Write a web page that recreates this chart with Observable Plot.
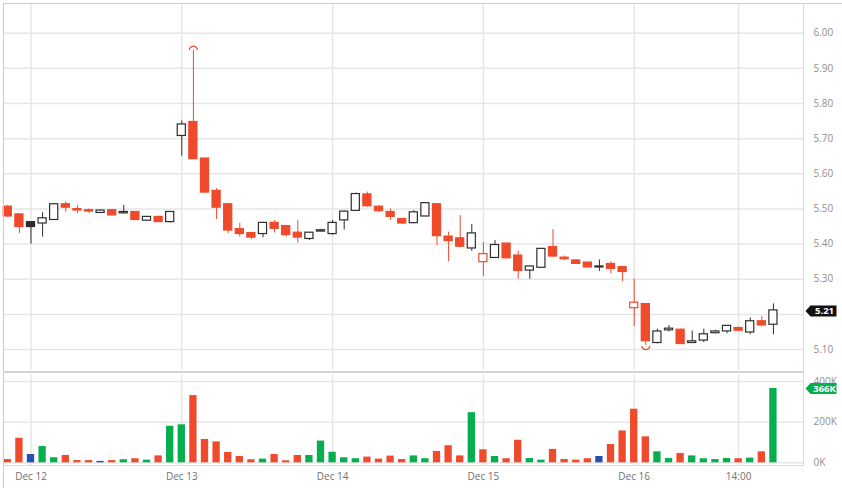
<!DOCTYPE html>
<html>
<head>
<meta charset="utf-8">
<script src="https://cdn.jsdelivr.net/npm/d3@7"></script>
<script src="https://cdn.jsdelivr.net/npm/@observablehq/plot@0.6"></script>
<style>
  html, body { margin: 0; padding: 0; background: #fff; }
  #chart { position: relative; width: 842px; height: 488px; overflow: hidden; font-family: "Open Sans", sans-serif; }
  #chart svg { position: absolute; left: 0; }
  .line { position: absolute; }
</style>
</head>
<body>
<div id="chart">
  <div id="price"></div>
  <div id="volume"></div>
  <div class="line" style="left:3px;top:3px;right:0;bottom:0;border-left:1px solid #cbcbcb;border-top:1px solid #cbcbcb;"></div>
  <div class="line" style="left:803px;top:3px;width:1px;height:463px;background:#dcdcdc;"></div>
  <div class="line" style="left:3px;top:371px;width:801px;height:2px;background:#d2d2d2;"></div>
  <div class="line" style="left:3px;top:465px;width:801px;height:1px;background:#dcdcdc;"></div>
</div>
<script>
// Candle data, one entry per bar
const open = [5.505, 5.483, 5.461, 5.46, 5.47, 5.512, 5.498, 5.495, 5.49, 5.495,
  5.489, 5.49, 5.468, 5.476, 5.464, 5.709, 5.746, 5.642, 5.55, 5.512,
  5.441, 5.43, 5.43, 5.459, 5.45, 5.431, 5.416, 5.437, 5.43, 5.469,
  5.496, 5.54, 5.505, 5.49, 5.47, 5.461, 5.48, 5.512, 5.42, 5.415,
  5.389, 5.35, 5.362, 5.40, 5.366, 5.326, 5.334, 5.39, 5.36, 5.352,
  5.346, 5.335, 5.342, 5.333, 5.219, 5.228, 5.12, 5.156, 5.155, 5.12,
  5.127, 5.148, 5.153, 5.16, 5.15, 5.179, 5.172];
const high = [5.51, 5.487, 5.462, 5.489, 5.515, 5.52, 5.51, 5.50, 5.497, 5.497,
  5.51, 5.493, 5.478, 5.478, 5.492, 5.75, 5.952, 5.642, 5.558, 5.516,
  5.459, 5.432, 5.462, 5.467, 5.452, 5.467, 5.431, 5.442, 5.467, 5.494,
  5.545, 5.548, 5.51, 5.50, 5.472, 5.495, 5.517, 5.515, 5.434, 5.481,
  5.456, 5.405, 5.41, 5.40, 5.38, 5.337, 5.386, 5.441, 5.366, 5.356,
  5.348, 5.355, 5.35, 5.334, 5.30, 5.23, 5.158, 5.168, 5.158, 5.153,
  5.158, 5.155, 5.168, 5.163, 5.19, 5.194, 5.23];
const low = [5.476, 5.43, 5.40, 5.42, 5.47, 5.49, 5.487, 5.487, 5.487, 5.482,
  5.485, 5.468, 5.465, 5.462, 5.46, 5.65, 5.64, 5.545, 5.47, 5.43,
  5.42, 5.413, 5.418, 5.432, 5.42, 5.403, 5.41, 5.435, 5.425, 5.44,
  5.493, 5.505, 5.49, 5.467, 5.456, 5.458, 5.478, 5.395, 5.35, 5.389,
  5.379, 5.308, 5.36, 5.36, 5.30, 5.30, 5.333, 5.365, 5.354, 5.343,
  5.333, 5.322, 5.315, 5.293, 5.166, 5.111, 5.116, 5.15, 5.115, 5.12,
  5.12, 5.145, 5.145, 5.152, 5.142, 5.165, 5.142];
const close = [5.48, 5.45, 5.45, 5.472, 5.512, 5.505, 5.497, 5.494, 5.494, 5.483,
  5.49, 5.47, 5.476, 5.464, 5.49, 5.739, 5.643, 5.548, 5.505, 5.44,
  5.43, 5.42, 5.459, 5.445, 5.427, 5.42, 5.431, 5.438, 5.459, 5.491,
  5.541, 5.509, 5.495, 5.479, 5.46, 5.489, 5.515, 5.424, 5.41, 5.394,
  5.429, 5.37, 5.396, 5.361, 5.325, 5.335, 5.385, 5.366, 5.358, 5.345,
  5.335, 5.335, 5.331, 5.322, 5.232, 5.125, 5.15, 5.158, 5.117, 5.122,
  5.142, 5.15, 5.166, 5.155, 5.179, 5.17, 5.21];
// Volume in thousands
const volume = [16, 121, 41, 80, 25, 36, 11, 11, 7, 11,
  15, 20, 13, 34, 180, 187, 331, 115, 103, 51,
  31, 15, 18, 41, 10, 36, 36, 107, 52, 25,
  20, 28, 18, 33, 16, 34, 20, 56, 84, 34,
  247, 64, 31, 20, 111, 21, 13, 66, 16, 13,
  20, 31, 90, 157, 264, 128, 54, 21, 46, 34,
  20, 16, 21, 20, 23, 54, 366];

// Axis ticks
const tickIdx = [2, 15, 28, 41, 54, 63];
const tickLabels = ["Dec 12", "Dec 13", "Dec 14", "Dec 15", "Dec 16", "14:00"];
const priceTicks = [5.1, 5.2, 5.3, 5.4, 5.5, 5.6, 5.7, 5.8, 5.9, 6.0];
const volumeTicks = [0, 200000, 400000];

const RED = "#ef4a2c";
const DARK = "#2e2e2e";
const GREEN = "#06ae4e";
const BLUE = "#2451b8";
const GRID = "#e6e6e6";

const candles = open.map((o, i) => ({
  i: i,
  open: o,
  high: high[i],
  low: low[i],
  close: close[i],
  volume: volume[i] * 1000,
  prev: i ? close[i - 1] : o
}));

// hollow candle scheme: colour vs previous close, fill vs open
const candleColor = d => d.close >= d.prev ? DARK : RED;
const bodyFill = d => d.close > d.open ? "white" : candleColor(d);
const volumeColor = d => d.close > d.prev ? GREEN : d.close < d.prev ? RED : BLUE;

const xScale = {type: "linear", domain: [-0.37, 68.68], axis: null};
const tickText = i => tickLabels[tickIdx.indexOf(i)];

// small tag shape with an arrow pointing left
const tagSymbol = {
  draw(ctx) {
    ctx.moveTo(0, 0);
    ctx.lineTo(5, -5.5);
    ctx.lineTo(31, -5.5);
    ctx.lineTo(31, 5.5);
    ctx.lineTo(5, 5.5);
    ctx.closePath();
  }
};
const arcTop = {
  draw(ctx) {
    ctx.moveTo(-4, 0);
    ctx.arc(0, 0, 4, Math.PI, 2 * Math.PI);
  }
};
const arcBottom = {
  draw(ctx) {
    ctx.moveTo(4, 0);
    ctx.arc(0, 0, 4, 0, Math.PI);
  }
};

const highest = candles.reduce((a, b) => b.high > a.high ? b : a);
const lowest = candles.reduce((a, b) => b.low < a.low ? b : a);
const last = candles[candles.length - 1];

// the last-price tag hides the tick label it sits on
const priceLabels = priceTicks.filter(t => Math.abs(t - last.close) > 0.03);

const priceChart = Plot.plot({
  width: 842,
  height: 372,
  marginLeft: 3,
  marginRight: 38,
  marginTop: 3,
  marginBottom: 2,
  x: xScale,
  y: {domain: [5.0404, 6.0845], axis: null},
  style: {fontFamily: "Open Sans, sans-serif", fontSize: "10px", background: "transparent"},
  marks: [
    Plot.gridY(priceTicks, {stroke: GRID, strokeOpacity: 1, strokeWidth: 1.5}),
    Plot.gridX(tickIdx, {stroke: GRID, strokeOpacity: 1, strokeWidth: 1.5}),
    Plot.axisY(priceLabels, {
      anchor: "right",
      label: null,
      tickSize: 0,
      tickPadding: 9,
      tickFormat: d3.format(".2f"),
      fill: "#8f8f8f"
    }),
    Plot.ruleX(candles, {x: "i", y1: "low", y2: "high", stroke: candleColor, strokeWidth: 1}),
    Plot.rect(candles, {
      x1: d => d.i - 0.35,
      x2: d => d.i + 0.35,
      y1: d => Math.min(d.open, d.close),
      y2: d => Math.max(d.open, d.close),
      fill: bodyFill,
      stroke: candleColor,
      strokeWidth: 1.2,
      insetTop: -0.5,
      insetBottom: -0.5
    }),
    Plot.dot([highest], {x: "i", y: "high", symbol: arcTop, fill: "none", stroke: candleColor, strokeWidth: 1.2}),
    Plot.dot([lowest], {x: "i", y: "low", symbol: arcBottom, fill: "none", stroke: candleColor, strokeWidth: 1.2}),
    Plot.dot([last], {y: "close", frameAnchor: "right", dx: 1, symbol: tagSymbol, fill: "#111", stroke: null}),
    Plot.text([last], {
      y: "close",
      text: d => d.close.toFixed(2),
      frameAnchor: "right",
      dx: 20,
      textAnchor: "middle",
      fill: "white",
      fontWeight: "bold",
      fontSize: 9.5
    })
  ]
});

const volumeChart = Plot.plot({
  width: 842,
  height: 116,
  marginLeft: 3,
  marginRight: 38,
  marginTop: 3,
  marginBottom: 23,
  x: xScale,
  y: {domain: [-13300, 430000], axis: null},
  style: {fontFamily: "Open Sans, sans-serif", fontSize: "10px", background: "transparent"},
  marks: [
    Plot.gridY(volumeTicks, {stroke: GRID, strokeOpacity: 1, strokeWidth: 1.5}),
    Plot.gridX(tickIdx, {stroke: GRID, strokeOpacity: 1, strokeWidth: 1.5}),
    Plot.axisY(volumeTicks, {
      anchor: "right",
      label: null,
      tickSize: 0,
      tickPadding: 9,
      tickFormat: d => d / 1000 + "K",
      fill: "#8f8f8f"
    }),
    Plot.axisX(tickIdx, {
      label: null,
      tickSize: 0,
      tickPadding: 7,
      tickFormat: tickText,
      fill: "#707070"
    }),
    Plot.rectY(candles, {
      x1: d => d.i - 0.315,
      x2: d => d.i + 0.315,
      y: "volume",
      fill: volumeColor
    }),
    Plot.dot([last], {y: "volume", frameAnchor: "right", dx: 1, symbol: tagSymbol, fill: GREEN, stroke: null}),
    Plot.text([last], {
      y: "volume",
      text: d => Math.round(d.volume / 1000) + "K",
      frameAnchor: "right",
      dx: 20,
      textAnchor: "middle",
      fill: "white",
      fontWeight: "bold",
      fontSize: 9.5
    })
  ]
});

priceChart.style.top = "0px";
volumeChart.style.top = "372px";
document.getElementById("price").appendChild(priceChart);
document.getElementById("volume").appendChild(volumeChart);
</script>
</body>
</html>
